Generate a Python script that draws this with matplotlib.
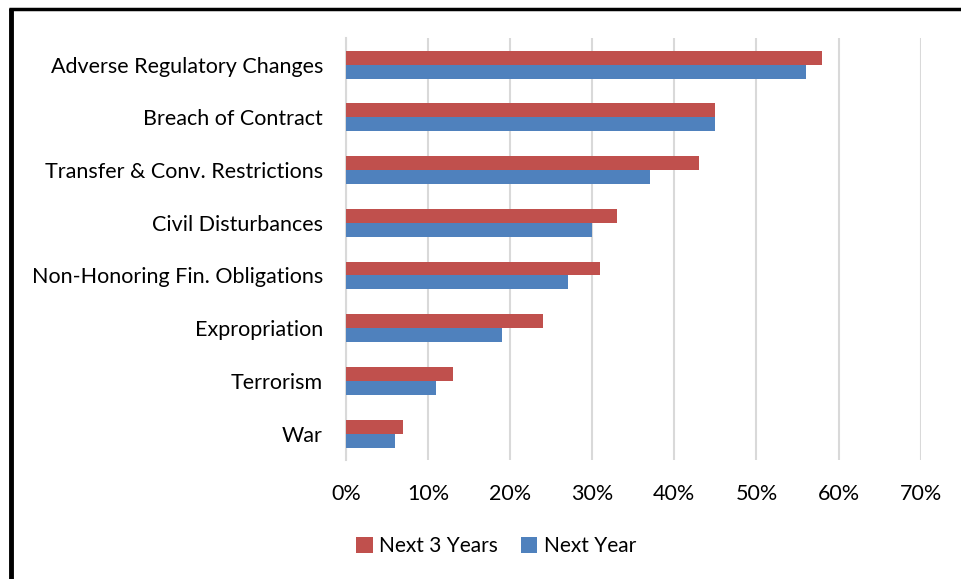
import numpy as np
import matplotlib
matplotlib.use("Agg")
import matplotlib.pyplot as plt
from matplotlib.lines import Line2D

categories = ["Adverse Regulatory Changes", "Breach of Contract",
              "Transfer & Conv. Restrictions", "Civil Disturbances",
              "Non-Honoring Fin. Obligations", "Expropriation",
              "Terrorism", "War"]
next_3_years = [0.58, 0.45, 0.43, 0.33, 0.31, 0.24, 0.13, 0.07]
next_year = [0.56, 0.45, 0.37, 0.30, 0.27, 0.19, 0.11, 0.06]
x_ticks = [0, 0.1, 0.2, 0.3, 0.4, 0.5, 0.6, 0.7]

plt.rcParams['font.family'] = ['Lato', 'DejaVu Sans']
red = '#C0504D'
blue = '#4F81BD'

fig = plt.figure(figsize=(9.61, 5.79), dpi=100)
ax = fig.add_axes([0.36, 0.2055, 0.598, 0.7285])

y = np.arange(len(categories))[::-1]
h = 0.265
ax.barh(y + h/2, next_3_years, height=h, color=red, label='Next 3 Years', zorder=3)
ax.barh(y - h/2, next_year, height=h, color=blue, label='Next Year', zorder=3)

ax.set_xlim(0, 0.7)
ax.set_ylim(-0.5, len(categories) - 0.5)
ax.set_xticks(x_ticks)
ax.set_xticklabels([f"{int(round(t*100))}%" for t in x_ticks])
ax.set_yticks(y)
ax.set_yticklabels(categories)
ax.tick_params(axis='both', length=0, labelsize=15.5, colors='black')
ax.tick_params(axis='x', pad=17)
ax.tick_params(axis='y', pad=16.5)
ax.grid(axis='x', color='#d9d9d9', linewidth=1.5, zorder=0)
for s in ['top', 'right', 'bottom']:
    ax.spines[s].set_visible(False)
ax.spines['left'].set_color('#d9d9d9')
ax.spines['left'].set_linewidth(1.5)

ax.legend(loc='center', bbox_to_anchor=(0.516, 0.057), bbox_transform=fig.transFigure,
          ncol=2, frameon=False, fontsize=15, handlelength=0.8, handleheight=0.8,
          handletextpad=0.3, columnspacing=1.1)

# outer frame (top and left edges)
fig.add_artist(Line2D([0.0115, 0.0115], [0, 0.986], color='black', linewidth=3.5,
                      transform=fig.transFigure, solid_capstyle='butt'))
fig.add_artist(Line2D([0.0095, 1.0], [0.984, 0.984], color='black', linewidth=2.5,
                      transform=fig.transFigure, solid_capstyle='butt'))

fig.savefig("out.png", dpi=100, facecolor='white')
